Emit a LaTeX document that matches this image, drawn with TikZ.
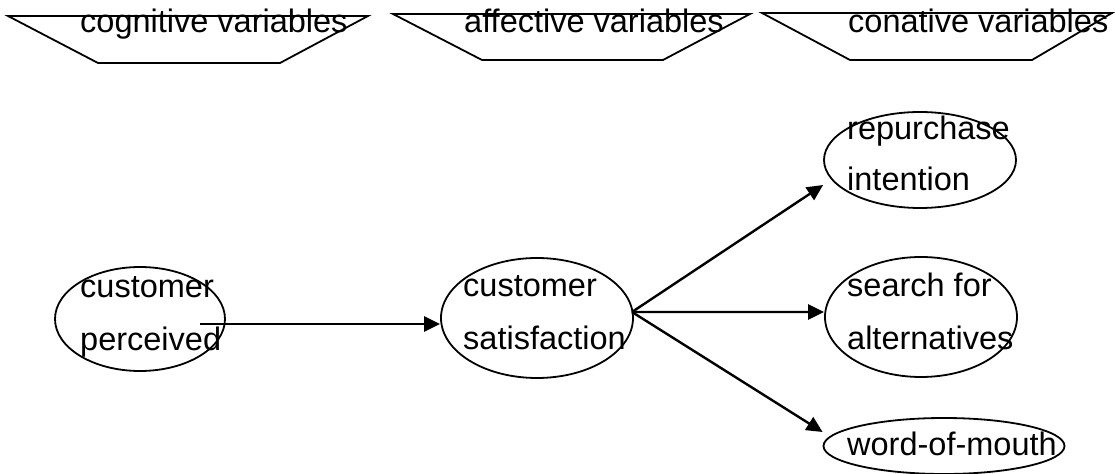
\documentclass[tikz,border=0pt]{standalone}
\usepackage{fontspec}
\setmainfont{Liberation Sans}
\usetikzlibrary{arrows.meta,shapes.geometric}

\tikzset{
  label text/.style={anchor=base west, inner sep=0pt, font=\fontsize{32.5bp}{38bp}\selectfont},
  concept/.style={draw, ellipse, line width=1.8bp, inner sep=0pt},
  band/.style={draw, line width=1.8bp, line join=miter},
  link/.style={line width=2.4bp, -{Triangle[length=16bp,width=15bp]}}
}

\begin{document}
\begin{tikzpicture}[x=1bp, y=-1bp]
  \useasboundingbox (0,0) rectangle (1115,474);

  % variable groups along the top
  \draw[band] (8,16) -- (368,16) -- (280,63) -- (98,63) -- cycle;
  \draw[band] (393,14) -- (750,14) -- (663,60) -- (482,60) -- cycle;
  \draw[band] (762,13) -- (1112,13) -- (1032,60) -- (850,60) -- cycle;
  \node[label text] (cogt) at (80,33) {cognitive variables};
  \node[label text] (afft) at (464,33) {affective variables};
  \node[label text] (cont) at (848,33) {conative variables};

  % constructs
  \node[concept, minimum width=170bp, minimum height=104bp] (cp)  at (140,319) {};
  \node[concept, minimum width=192bp, minimum height=120bp] (sat) at (537,318) {};
  \node[concept, minimum width=192bp, minimum height=96bp]  (rep) at (920,160) {};
  \node[concept, minimum width=192bp, minimum height=120bp] (srch) at (921,317) {};
  \node[concept, minimum width=241bp, minimum height=56bp]  (wom) at (944,446) {};

  \node[label text] (cpa) at (80,298) {customer};
  \node[label text] (cpb) at (80,351) {perceived};
  \node[label text] (sata) at (463,297) {customer};
  \node[label text] (satb) at (463,350) {satisfaction};
  \node[label text] (repa) at (847,140) {repurchase};
  \node[label text] (repb) at (847,191) {intention};
  \node[label text] (srcha) at (847,297) {search for};
  \node[label text] (srchb) at (847,350) {alternatives};
  \node[label text] (woma) at (847,455) {word-of-mouth};

  % relations
  \coordinate (cpout) at (200,324);
  \coordinate (satout) at (632,312);
  \draw[link] (cpout) -- (cpout -| sat.west);
  \draw[link] (satout) -- ([yshift=-25bp]rep.west);
  \draw[link] (satout) -- ([yshift=5bp]srch.west);
  \draw[link] (satout) -- ([yshift=14bp]wom.west);
\end{tikzpicture}
\end{document}
